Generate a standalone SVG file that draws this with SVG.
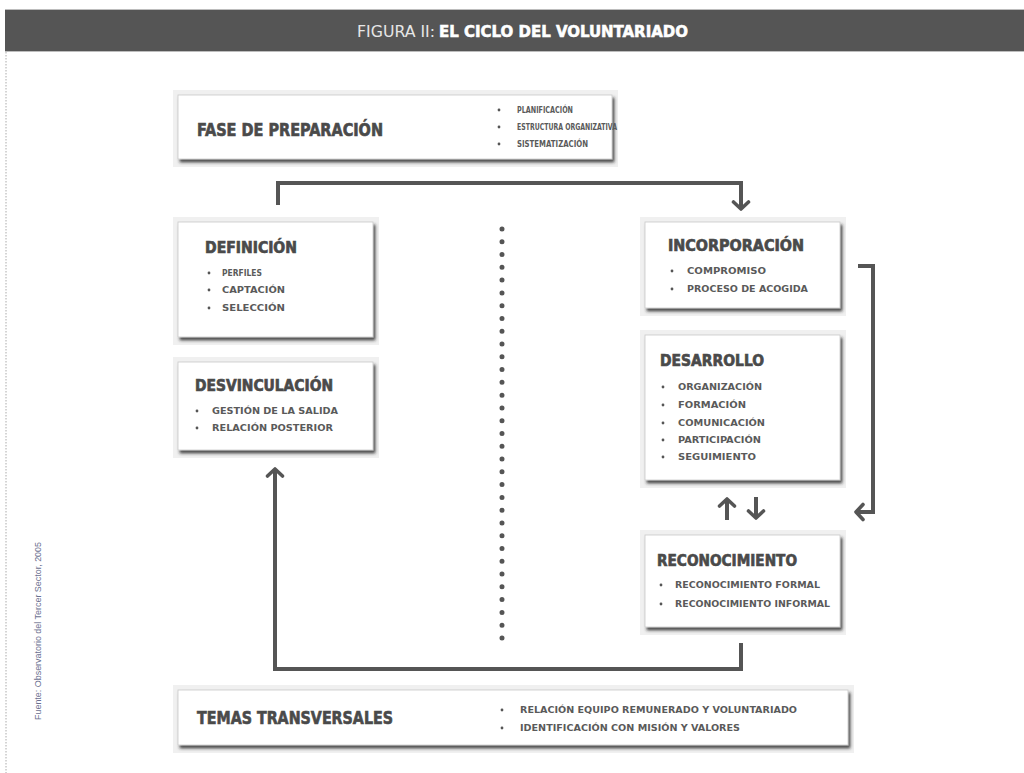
<svg xmlns="http://www.w3.org/2000/svg" width="1024" height="773" viewBox="0 0 1024 773">
<defs>
<style>
.ttl{font-family:"DejaVu Sans Condensed","DejaVu Sans","Liberation Sans",sans-serif;font-weight:bold;fill:#4a4a4a;stroke:#4a4a4a;stroke-width:0.6;}
.itm{font-family:"DejaVu Sans Condensed","DejaVu Sans","Liberation Sans",sans-serif;font-weight:bold;font-size:9px;fill:#5a5a5a;}
.frame{fill:#f0f0f0;}
.box{fill:#ffffff;stroke:#c8c8c8;stroke-width:0.8;filter:url(#sh);}
.dot{fill:#555;}
.conn{fill:none;stroke:#555;stroke-width:4;}
</style>
<filter id="sh" x="-10%" y="-10%" width="130%" height="140%">
<feDropShadow dx="2" dy="3" stdDeviation="1.6" flood-color="#222" flood-opacity="0.8"/>
</filter>
<marker id="ah" markerUnits="userSpaceOnUse" markerWidth="20" markerHeight="20" viewBox="0 0 20 20" refX="15" refY="10" orient="auto">
<path d="M8,2.5 L15,10 L8,17.5" fill="none" stroke="#555" stroke-width="3.6" stroke-linecap="round" stroke-linejoin="round"/>
</marker>
</defs>
<rect width="1024" height="773" fill="#ffffff"/>
<!-- header -->
<g id="header">
<rect x="5" y="9" width="1019" height="43" fill="#bdbdbd"/>
<rect x="5" y="10" width="1019" height="41" fill="#555555"/>
<text x="357" y="37" font-family="DejaVu Sans Condensed,DejaVu Sans,sans-serif" font-size="15" fill="#e6e6e6" textLength="78" lengthAdjust="spacingAndGlyphs">FIGURA II:</text>
<text x="439" y="37" font-family="DejaVu Sans Condensed,DejaVu Sans,sans-serif" font-size="15" font-weight="bold" fill="#ffffff" stroke="#ffffff" stroke-width="0.5" textLength="249" lengthAdjust="spacingAndGlyphs">EL CICLO DEL VOLUNTARIADO</text>
</g>
<line x1="6" y1="52" x2="6" y2="773" stroke="#aaa" stroke-width="1" stroke-dasharray="1.5 1.5"/>
<g id="source">
<text transform="translate(41,720) rotate(-90)" font-family="Liberation Sans,Arial,sans-serif" font-size="8.5" fill="#6b7090" textLength="178" lengthAdjust="spacingAndGlyphs">Fuente: Observatorio del Tercer Sector, 2005</text>
</g>
<!-- connectors -->
<g id="connectors">
<path class="conn" d="M278,205 V183 H741 V209" marker-end="url(#ah)"/>
<path class="conn" d="M858,266 H873 V512 H856" marker-end="url(#ah)"/>
<path class="conn" d="M727,520 V499" marker-end="url(#ah)"/>
<path class="conn" d="M756,497 V518" marker-end="url(#ah)"/>
<path class="conn" d="M741,643 V669 H275 V469" marker-end="url(#ah)"/>
<line x1="502" y1="229" x2="502" y2="638" stroke="#555" stroke-width="5" stroke-linecap="round" stroke-dasharray="0 12.78"/>
</g>
<!-- FASE DE PREPARACION -->
<g id="fase">
<rect class="frame" x="173" y="90" width="445" height="77"/>
<rect class="box" x="178" y="95" width="434" height="64"/>
<text class="ttl" x="197" y="136" font-size="17" textLength="186" lengthAdjust="spacingAndGlyphs">FASE DE PREPARACIÓN</text>
<circle class="dot" cx="499" cy="110" r="1.4"/><text class="itm" x="517" y="113" textLength="56" lengthAdjust="spacingAndGlyphs">PLANIFICACIÓN</text>
<circle class="dot" cx="499" cy="127" r="1.4"/><text class="itm" x="517" y="130" textLength="100" lengthAdjust="spacingAndGlyphs">ESTRUCTURA ORGANIZATIVA</text>
<circle class="dot" cx="499" cy="144" r="1.4"/><text class="itm" x="517" y="147" textLength="71" lengthAdjust="spacingAndGlyphs">SISTEMATIZACIÓN</text>
</g>
<!-- DEFINICION -->
<g id="definicion">
<rect class="frame" x="173" y="217" width="206" height="128"/>
<rect class="box" x="178" y="222" width="195" height="115"/>
<text class="ttl" x="205" y="253" font-size="15" textLength="92" lengthAdjust="spacingAndGlyphs">DEFINICIÓN</text>
<circle class="dot" cx="209" cy="273" r="1.4"/><text class="itm" x="222" y="276" textLength="40" lengthAdjust="spacingAndGlyphs">PERFILES</text>
<circle class="dot" cx="209" cy="290" r="1.4"/><text class="itm" x="222" y="293" textLength="63" lengthAdjust="spacingAndGlyphs">CAPTACIÓN</text>
<circle class="dot" cx="209" cy="308" r="1.4"/><text class="itm" x="222" y="311" textLength="63" lengthAdjust="spacingAndGlyphs">SELECCIÓN</text>
</g>
<!-- DESVINCULACION -->
<g id="desvinculacion">
<rect class="frame" x="173" y="357" width="206" height="101"/>
<rect class="box" x="178" y="362" width="195" height="88"/>
<text class="ttl" x="195" y="391" font-size="15" textLength="138" lengthAdjust="spacingAndGlyphs">DESVINCULACIÓN</text>
<circle class="dot" cx="197" cy="411" r="1.4"/><text class="itm" x="212" y="414" textLength="126" lengthAdjust="spacingAndGlyphs">GESTIÓN DE LA SALIDA</text>
<circle class="dot" cx="197" cy="428" r="1.4"/><text class="itm" x="212" y="431" textLength="121" lengthAdjust="spacingAndGlyphs">RELACIÓN POSTERIOR</text>
</g>
<!-- INCORPORACION -->
<g id="incorporacion">
<rect class="frame" x="640" y="217" width="206" height="99"/>
<rect class="box" x="645" y="222" width="195" height="86"/>
<text class="ttl" x="668" y="251" font-size="15" textLength="136" lengthAdjust="spacingAndGlyphs">INCORPORACIÓN</text>
<circle class="dot" cx="672" cy="271" r="1.4"/><text class="itm" x="687" y="274" textLength="79" lengthAdjust="spacingAndGlyphs">COMPROMISO</text>
<circle class="dot" cx="672" cy="289" r="1.4"/><text class="itm" x="687" y="292" textLength="121" lengthAdjust="spacingAndGlyphs">PROCESO DE ACOGIDA</text>
</g>
<!-- DESARROLLO -->
<g id="desarrollo">
<rect class="frame" x="640" y="330" width="206" height="158"/>
<rect class="box" x="645" y="335" width="195" height="145"/>
<text class="ttl" x="660" y="366" font-size="15" textLength="104" lengthAdjust="spacingAndGlyphs">DESARROLLO</text>
<circle class="dot" cx="663" cy="387" r="1.4"/><text class="itm" x="678" y="390" textLength="84" lengthAdjust="spacingAndGlyphs">ORGANIZACIÓN</text>
<circle class="dot" cx="663" cy="405" r="1.4"/><text class="itm" x="678" y="408" textLength="68" lengthAdjust="spacingAndGlyphs">FORMACIÓN</text>
<circle class="dot" cx="663" cy="423" r="1.4"/><text class="itm" x="678" y="426" textLength="87" lengthAdjust="spacingAndGlyphs">COMUNICACIÓN</text>
<circle class="dot" cx="663" cy="440" r="1.4"/><text class="itm" x="678" y="443" textLength="83" lengthAdjust="spacingAndGlyphs">PARTICIPACIÓN</text>
<circle class="dot" cx="663" cy="457" r="1.4"/><text class="itm" x="678" y="460" textLength="78" lengthAdjust="spacingAndGlyphs">SEGUIMIENTO</text>
</g>
<!-- RECONOCIMIENTO -->
<g id="reconocimiento">
<rect class="frame" x="640" y="530" width="206" height="105"/>
<rect class="box" x="645" y="535" width="195" height="92"/>
<text class="ttl" x="657" y="566" font-size="15" textLength="140" lengthAdjust="spacingAndGlyphs">RECONOCIMIENTO</text>
<circle class="dot" cx="661" cy="585" r="1.4"/><text class="itm" x="675" y="588" textLength="145" lengthAdjust="spacingAndGlyphs">RECONOCIMIENTO FORMAL</text>
<circle class="dot" cx="661" cy="604" r="1.4"/><text class="itm" x="675" y="607" textLength="155" lengthAdjust="spacingAndGlyphs">RECONOCIMIENTO INFORMAL</text>
</g>
<!-- TEMAS TRANSVERSALES -->
<g id="temas">
<rect class="frame" x="173" y="685" width="681" height="68"/>
<rect class="box" x="178" y="690" width="670" height="55"/>
<text class="ttl" x="197" y="724" font-size="17" textLength="196" lengthAdjust="spacingAndGlyphs">TEMAS TRANSVERSALES</text>
<circle class="dot" cx="502" cy="710" r="1.4"/><text class="itm" x="520" y="713" textLength="277" lengthAdjust="spacingAndGlyphs">RELACIÓN EQUIPO REMUNERADO Y VOLUNTARIADO</text>
<circle class="dot" cx="502" cy="728" r="1.4"/><text class="itm" x="520" y="731" textLength="220" lengthAdjust="spacingAndGlyphs">IDENTIFICACIÓN CON MISIÓN Y VALORES</text>
</g>
</svg>
